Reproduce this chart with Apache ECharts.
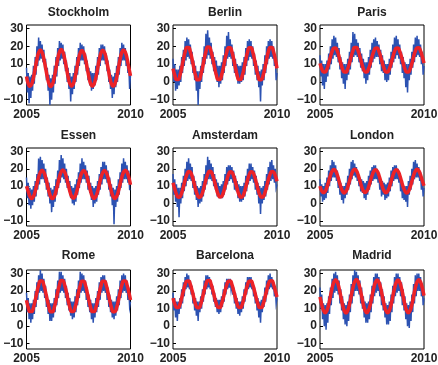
<!DOCTYPE html>
<html><head><meta charset="utf-8">
<script src="https://cdn.jsdelivr.net/npm/echarts@6/dist/echarts.min.js"></script>
<style>html,body{margin:0;padding:0;background:#fff}#c{width:438px;height:365px}</style>
</head><body><div id="c"></div>
<script>
const cities = ['Stockholm','Berlin','Paris','Essen','Amsterdam','London','Rome','Barcelona','Madrid'];
const startYear = 2005, endYear = 2010;
const xTickLabels = [2005, 2010];
const yTickLabels = [-10, 0, 10, 20, 30];
const obsPerYear = 24, fitPerYear = 12;

const stockholmObs = [8,-6,5,-12,3,-9,4,-5,9,-1,14,4,20,9,25,12,23,13,21,11,18,7,13,1,
8,-5,4,-13,2,-10,4,-6,9,-1,14,3,19,9,23,12,22,13,21,10,17,6,12,0,
8,-4,5,-11,3,-7,5,-4,9,0,14,4,19,9,22,12,21,12,20,10,16,6,12,1,
8,-2,6,-5,5,-4,5,-2,9,1,14,4,19,9,21,12,21,12,20,10,16,6,12,0,
7,-4,4,-9,3,-7,5,-3,9,0,14,4,19,9,22,12,21,12,19,9,15,5,10,-4,4];
const berlinObs = [13,0,10,-5,7,-4,7,-2,9,0,14,5,18,9,23,12,25,14,24,13,21,10,17,5,
12,1,9,-5,6,-13,6,-4,9,0,14,5,20,10,27,13,29,15,25,13,22,10,17,6,
14,4,12,0,9,-3,9,-1,11,1,15,5,20,9,26,13,28,14,24,13,21,9,17,5,
13,3,10,-1,9,-1,9,0,11,1,14,4,19,9,23,12,24,14,23,13,20,9,16,4,
12,1,9,-3,6,-11,7,-2,10,1,15,5,20,10,23,13,24,14,23,13,20,9,15,1,5];
const parisObs = [15,3,12,-2,10,-4,10,0,12,3,16,7,20,10,24,13,26,15,25,14,22,11,19,7,
14,2,11,-1,10,-4,10,1,13,4,17,7,22,11,28,14,27,15,24,14,22,11,19,8,
16,6,13,2,11,-1,11,1,14,4,18,8,22,11,24,13,25,14,23,14,21,10,18,6,
15,5,12,1,10,0,10,1,13,4,17,8,21,11,25,13,26,15,24,13,21,10,17,5,
14,2,11,-3,10,-6,10,1,13,4,17,8,21,11,25,14,26,15,24,14,21,10,17,4,9];
const essenObs = [15,3,12,-1,9,-3,8,-1,10,1,13,4,17,8,26,11,27,14,25,14,23,12,20,8,
15,4,12,0,9,-5,8,-2,10,1,14,5,19,9,25,12,28,15,26,14,23,12,20,9,
16,7,13,3,10,0,9,-1,11,1,14,5,18,9,23,12,26,14,24,14,22,12,19,8,
16,6,12,2,10,-2,9,0,10,1,13,5,17,8,21,11,24,14,24,14,22,12,19,8,
15,4,11,-1,9,-12,8,-2,10,1,14,5,18,9,23,12,26,14,24,14,22,12,19,8,8];
const amsterdamObs = [17,5,14,1,11,-2,9,-8,9,0,12,3,16,7,20,10,24,13,26,14,23,13,21,9,
16,5,13,2,10,-2,9,0,10,1,13,4,17,8,22,11,27,14,25,14,23,13,21,10,
17,8,14,4,12,3,10,3,11,3,13,5,17,8,21,11,22,13,22,14,21,12,19,8,
16,7,13,3,11,1,10,1,10,2,12,4,16,7,20,11,23,13,23,14,21,12,19,8,
16,5,12,0,10,-6,9,0,10,2,13,4,17,8,21,11,24,13,25,14,22,12,20,9,11];
const londonObs = [14,4,11,1,10,2,12,3,15,6,19,10,22,13,25,15,24,15,22,13,19,9,15,5,
12,2,10,0,10,3,12,5,16,8,20,11,24,14,25,16,23,15,21,13,18,10,15,7,
14,6,13,3,12,2,13,5,16,8,19,11,21,13,22,14,22,14,20,12,17,8,14,4,
13,5,12,2,11,3,12,4,15,7,19,10,21,13,22,14,22,14,20,12,17,7,13,3,
11,2,10,1,10,-2,13,5,16,8,20,11,24,14,25,15,23,15,21,13,18,8,14,4,9];
const romeObs = [19,8,16,4,13,2,13,4,15,7,20,11,25,15,29,19,32,20,30,19,27,16,23,11,
18,7,15,3,13,3,13,5,16,8,21,12,26,16,31,19,31,20,29,19,27,16,23,12,
19,9,16,6,14,4,14,5,17,8,21,12,26,16,31,19,30,20,29,19,26,15,22,11,
18,8,15,4,13,2,13,5,16,8,20,11,25,15,28,19,29,20,29,19,26,15,22,11,
18,8,15,5,14,4,14,6,17,9,21,12,26,16,29,19,30,20,29,19,26,15,22,11,14];
const barcelonaObs = [19,9,16,5,14,3,14,7,16,10,21,13,25,17,28,21,30,22,29,21,26,18,23,13,
19,9,16,6,14,3,14,8,17,10,21,14,26,18,29,21,29,22,28,21,26,18,23,14,
19,11,16,8,15,7,15,8,17,11,21,14,25,18,27,21,27,22,27,21,25,18,22,13,
19,10,16,7,14,6,14,8,17,10,21,14,25,18,28,21,28,22,28,21,25,17,22,13,
19,9,16,5,14,2,15,8,17,11,22,14,26,18,29,21,30,22,28,21,25,17,22,13,16];
const madridObs = [22,10,18,4,13,0,12,-2,13,2,17,7,22,12,27,16,30,19,31,20,29,18,26,13,
21,9,17,4,13,1,12,0,14,3,18,8,24,13,29,17,32,20,31,20,29,18,26,13,
22,10,17,5,14,2,13,2,14,4,18,8,23,13,28,17,30,19,30,20,28,17,25,12,
21,9,17,5,13,1,12,1,14,3,18,8,23,13,28,17,30,19,30,20,28,17,25,12,
21,9,17,4,13,0,12,-1,14,3,18,8,24,13,29,17,30,20,30,20,28,17,24,12,16];

const stockholmFit = [3.0,-1.0,-2.5,-1.2,2.4,7.5,12.7,16.4,17.9,16.6,13.0,8.0,
2.8,-1.1,-2.6,-1.3,2.4,7.6,12.9,16.7,18.2,16.8,13.1,8.0,
2.8,-1.0,-2.4,-1.1,2.5,7.5,12.6,16.3,17.7,16.5,13.0,7.9,
2.8,-1.0,-2.5,-1.2,2.4,7.4,12.6,16.4,17.8,16.6,13.0,8.0,
2.7,-1.1,-2.5,-1.1,2.5,7.6,12.8,16.6,18.0,16.7,13.2,8.2,3.4];
const berlinFit = [7.5,3.8,1.3,1.3,3.7,7.8,12.6,16.8,19.3,19.3,16.9,12.8,
8.0,3.7,1.2,1.2,3.7,7.9,12.8,17.0,19.6,19.5,17.0,12.8,
8.1,3.9,1.4,1.4,3.8,7.8,12.6,16.7,19.2,19.2,16.8,12.7,
8.0,3.8,1.3,1.3,3.7,7.7,12.5,16.7,19.2,19.2,16.8,12.7,
7.9,3.7,1.2,1.3,3.7,7.8,12.7,16.9,19.4,19.4,17.0,12.9,7.6];
const parisFit = [10.4,7.4,5.6,5.5,7.3,10.4,14.0,17.2,19.0,19.1,17.3,14.2,
10.5,7.3,5.5,5.5,7.4,10.6,14.2,17.5,19.3,19.3,17.4,14.3,
10.7,7.5,5.7,5.6,7.4,10.4,14.0,17.1,18.9,19.0,17.2,14.1,
10.6,7.4,5.6,5.5,7.3,10.3,13.9,17.1,18.9,19.0,17.2,14.1,
10.5,7.3,5.5,5.5,7.3,10.4,14.1,17.3,19.1,19.2,17.4,14.3,10.6];
const essenFit = [10.0,7.0,4.0,2.9,4.0,7.0,11.0,15.1,18.0,19.1,18.0,15.1,
11.0,6.9,3.9,2.8,4.0,7.1,11.2,15.3,18.3,19.3,18.1,15.2,
11.1,7.1,4.1,3.0,4.1,7.0,11.0,15.0,17.9,19.0,17.9,15.0,
11.0,7.0,4.0,2.9,4.0,6.9,10.9,15.0,17.9,19.0,17.9,15.0,
10.9,6.9,3.9,2.9,4.0,7.0,11.1,15.2,18.1,19.2,18.1,15.2,10.8];
const amsterdamFit = [12.0,8.5,5.3,3.6,3.9,6.1,9.6,13.5,16.7,18.4,18.1,15.9,
12.4,8.4,5.2,3.5,3.9,6.2,9.8,13.7,16.9,18.6,18.2,16.0,
12.5,8.6,5.4,3.7,4.0,6.1,9.6,13.4,16.6,18.3,18.0,15.8,
12.4,8.5,5.3,3.6,3.9,6.0,9.5,13.4,16.6,18.3,18.0,15.8,
12.3,8.4,5.2,3.6,3.9,6.1,9.7,13.6,16.8,18.5,18.2,16.1,12.8];
const londonFit = [10.0,7.2,6.2,7.0,9.4,12.8,16.1,18.6,19.6,18.8,16.4,13.0,
9.6,7.1,6.1,7.0,9.5,12.9,16.3,18.8,19.8,19.0,16.5,13.1,
9.8,7.3,6.3,7.1,9.5,12.8,16.0,18.5,19.5,18.7,16.3,12.9,
9.7,7.2,6.2,7.0,9.4,12.7,16.0,18.5,19.5,18.7,16.3,12.9,
9.6,7.1,6.1,7.0,9.4,12.8,16.2,18.7,19.7,18.9,16.5,13.2,10.2];
const romeFit = [14.8,10.7,8.3,8.3,10.6,14.6,19.2,23.3,25.7,25.7,23.4,19.4,
14.8,10.6,8.2,8.2,10.6,14.7,19.4,23.5,26.0,25.9,23.5,19.5,
14.9,10.8,8.4,8.4,10.7,14.6,19.2,23.2,25.6,25.6,23.3,19.3,
14.8,10.7,8.3,8.3,10.6,14.5,19.1,23.2,25.6,25.6,23.3,19.3,
14.7,10.6,8.2,8.3,10.6,14.6,19.3,23.4,25.8,25.8,23.5,19.5,14.9];
const barcelonaFit = [16.0,12.7,10.7,10.6,12.6,16.1,20.1,23.7,25.7,25.8,23.8,20.3,
16.3,12.6,10.6,10.5,12.6,16.2,20.3,23.9,25.9,26.0,23.9,20.4,
16.4,12.8,10.8,10.7,12.7,16.1,20.0,23.6,25.6,25.7,23.7,20.2,
16.3,12.7,10.7,10.6,12.6,16.0,20.0,23.6,25.6,25.7,23.7,20.2,
16.2,12.6,10.6,10.6,12.6,16.1,20.2,23.8,25.8,25.9,23.9,20.4,16.6];
const madridFit = [16.7,12.3,8.9,7.6,8.9,12.3,17.0,21.7,25.1,26.4,25.1,21.7,
17.0,12.2,8.8,7.5,8.9,12.4,17.2,21.9,25.4,26.6,25.2,21.8,
17.1,12.4,9.0,7.7,9.0,12.3,17.0,21.6,25.0,26.3,25.0,21.6,
17.0,12.3,8.9,7.6,8.9,12.2,16.9,21.6,25.0,26.3,25.0,21.6,
16.9,12.2,8.8,7.6,8.9,12.3,17.1,21.8,25.2,26.5,25.2,21.8,17.4];

const obsList = [stockholmObs, berlinObs, parisObs, essenObs, amsterdamObs, londonObs, romeObs, barcelonaObs, madridObs];
const fitList = [stockholmFit, berlinFit, parisFit, essenFit, amsterdamFit, londonFit, romeFit, barcelonaFit, madridFit];

const colLeft = [26.5, 173, 320], boxW = 104;
const rowTop = [25, 148, 270], rowH = [80, 78, 79];
const titleTop = [6.5, 130, 249.5];
const font = '"Liberation Sans", Arial, Helvetica, sans-serif';
const labelStyle = {fontSize: 12, fontWeight: 'bold', color: '#222', fontFamily: font};

const grid = [], xAxis = [], yAxis = [], series = [], title = [];
cities.forEach((name, i) => {
  const r = Math.floor(i / 3), c = i % 3;
  grid.push({left: colLeft[c], top: rowTop[r], width: boxW, height: rowH[r], show: true,
    borderColor: '#000', borderWidth: 1, containLabel: false, outerBoundsMode: 'none'});
  title.push({text: name, left: colLeft[c] + boxW / 2, top: titleTop[r], textAlign: 'center', padding: 0,
    textStyle: Object.assign({}, labelStyle)});
  xAxis.push({type: 'value', gridIndex: i, min: startYear, max: endYear, interval: 5,
    axisLine: {show: false}, axisTick: {show: false}, splitLine: {show: false},
    axisLabel: Object.assign({margin: 4, showMinLabel: true, showMaxLabel: true, customValues: xTickLabels,
      formatter: v => String(v)}, labelStyle)});
  yAxis.push({type: 'value', gridIndex: i, min: -13, max: 32,
    axisLine: {show: false}, splitLine: {show: false},
    axisTick: {show: true, inside: true, length: 3, customValues: yTickLabels, lineStyle: {color: '#000'}},
    axisLabel: Object.assign({margin: 3, customValues: yTickLabels,
      formatter: v => String(v).replace('-', '\u2212')}, labelStyle)});
  series.push({type: 'line', xAxisIndex: i, yAxisIndex: i,
    data: obsList[i].map((v, k) => [startYear + k / obsPerYear, v]),
    showSymbol: false, symbol: 'none', clip: true, z: 2,
    lineStyle: {color: '#2c52b2', width: 1.5, join: 'miter'}});
  series.push({type: 'line', xAxisIndex: i, yAxisIndex: i,
    data: fitList[i].map((v, k) => [startYear + k / fitPerYear, v]),
    showSymbol: false, symbol: 'none', smooth: 0.5, clip: true, z: 3,
    lineStyle: {color: '#ec2227', width: 3.5}});
});

const chart = echarts.init(document.getElementById('c'), null, {renderer: 'canvas'});
chart.setOption({animation: false, backgroundColor: '#fff', title, grid, xAxis, yAxis, series});
</script>
</body></html>
